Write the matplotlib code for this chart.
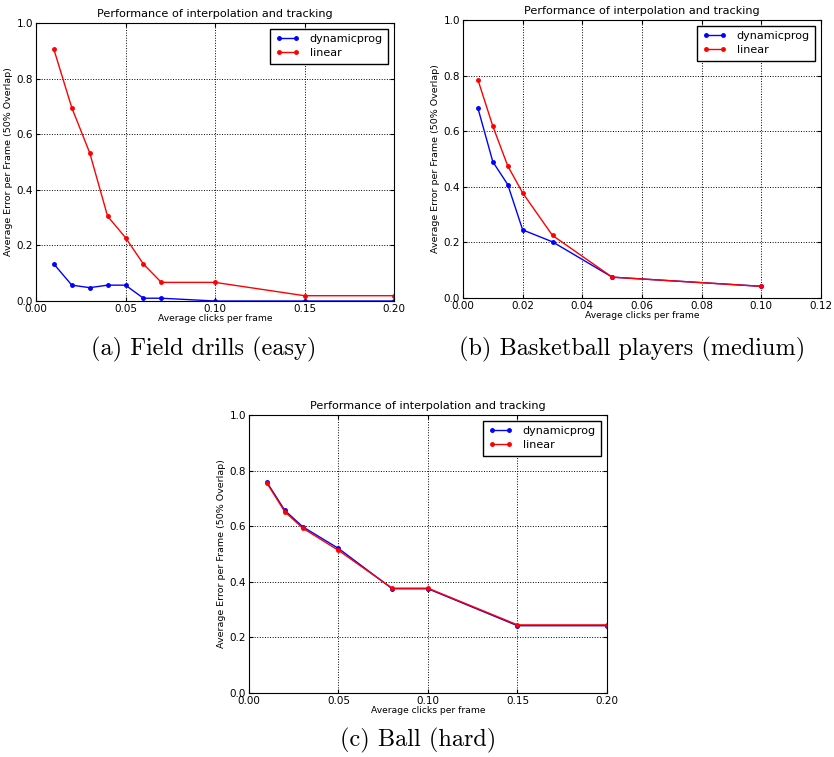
import matplotlib
matplotlib.use("Agg")
import matplotlib.pyplot as plt

# (a) field drills
a_x = [0.01, 0.02, 0.03, 0.04, 0.05, 0.06, 0.07, 0.10, 0.15, 0.20]
a_dp = [0.133, 0.057, 0.048, 0.057, 0.057, 0.010, 0.010, 0.0, 0.0, 0.0]
a_lin = [0.905, 0.695, 0.533, 0.305, 0.228, 0.133, 0.067, 0.067, 0.019, 0.019]

# (b) basketball players
b_x = [0.005, 0.01, 0.015, 0.02, 0.03, 0.05, 0.10]
b_dp = [0.683, 0.49, 0.408, 0.245, 0.202, 0.075, 0.042]
b_lin = [0.785, 0.618, 0.475, 0.378, 0.225, 0.075, 0.042]

# (c) ball
c_x = [0.01, 0.02, 0.03, 0.05, 0.08, 0.10, 0.15, 0.20]
c_dp = [0.758, 0.657, 0.598, 0.520, 0.375, 0.375, 0.242, 0.242]
c_lin = [0.755, 0.652, 0.593, 0.513, 0.377, 0.377, 0.245, 0.245]

captions = ["(a) Field drills (easy)", "(b) Basketball players (medium)", "(c) Ball (hard)"]
a_ticks = [0.00, 0.05, 0.10, 0.15, 0.20]
b_ticks = [0.00, 0.02, 0.04, 0.06, 0.08, 0.10, 0.12]
y_ticks = [0.0, 0.2, 0.4, 0.6, 0.8, 1.0]

W, H = 834, 757
fig = plt.figure(figsize=(W / 100, H / 100), dpi=100)


def panel(rect, x, dp, lin, xticks):
    l, t, r, b = rect
    ax = fig.add_axes([l / W, 1 - b / H, (r - l) / W, (b - t) / H])
    ax.plot(x, dp, color="blue", marker="o", markersize=2.5, lw=1, label="dynamicprog")
    ax.plot(x, lin, color="red", marker="o", markersize=2.5, lw=1, label="linear")
    ax.set_xlim(xticks[0], xticks[-1])
    ax.set_ylim(0, 1)
    ax.set_xticks(xticks)
    ax.set_xticklabels(["%.2f" % v for v in xticks])
    ax.set_yticks(y_ticks)
    ax.set_yticklabels(["%.1f" % v for v in y_ticks])
    ax.tick_params(direction="in", top=True, right=True, labelsize=7.5, length=3, pad=2)
    ax.grid(True, color="black", linestyle=":", lw=0.7)
    ax.set_title("Performance of interpolation and tracking", fontsize=8.1, pad=4.5)
    ax.set_xlabel("Average clicks per frame", fontsize=6.6, labelpad=0)
    ax.set_ylabel("Average Error per Frame (50% Overlap)", fontsize=6.8, labelpad=3)
    leg = ax.legend(loc="upper right", fontsize=8, numpoints=2, fancybox=False,
                    framealpha=1, borderaxespad=0.5, handlelength=2.2,
                    handletextpad=0.9, borderpad=0.5, labelspacing=0.35)
    leg.get_frame().set_edgecolor("black")
    return ax


panel((36, 23, 394, 301), a_x, a_dp, a_lin, a_ticks)
panel((463, 20, 821, 298), b_x, b_dp, b_lin, b_ticks)
panel((249, 415, 607, 693), c_x, c_dp, c_lin, a_ticks)

cap_font = dict(fontsize=17.5, family="cmr10", ha="center", va="center")
fig.text(204 / W, 1 - 349 / H, captions[0], **cap_font)
fig.text(632 / W, 1 - 349 / H, captions[1], **cap_font)
fig.text(418 / W, 1 - 740 / H, captions[2], **cap_font)

fig.savefig("out.png", dpi=100)
